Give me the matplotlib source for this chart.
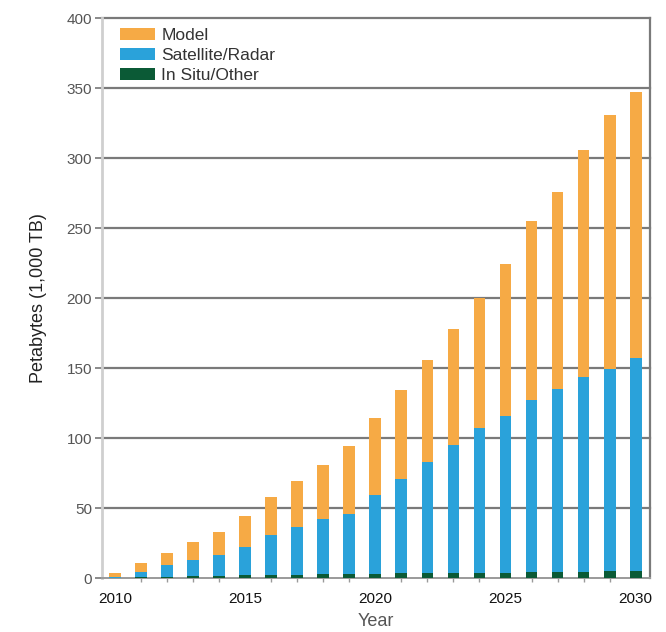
import matplotlib.pyplot as plt
import numpy as np

years = list(range(2010, 2031))
# cumulative tops
total = [3.5, 11, 18, 26, 33, 44, 58, 69, 81, 94, 114,
         134, 156, 178, 200, 224, 255, 276, 306, 331, 347]
blue_top = [1, 4.5, 9.3, 13, 16.5, 22, 31, 36.6, 42, 46, 59,
            71, 83, 95, 107, 116, 127, 135, 143.6, 149, 157]
in_situ = [0.3, 0.6, 1.0, 1.3, 1.6, 1.9, 2.2, 2.4, 2.7, 2.9, 3.1,
           3.3, 3.4, 3.6, 3.8, 3.9, 4.1, 4.3, 4.5, 4.7, 4.9]
y_ticks = [0, 50, 100, 150, 200, 250, 300, 350, 400]
x_ticks = [2010, 2015, 2020, 2025, 2030]

years = np.array(years)
in_situ = np.array(in_situ)
satellite = np.array(blue_top) - in_situ
model = np.array(total) - np.array(blue_top)

plt.rcParams["font.family"] = ["Liberation Sans", "DejaVu Sans"]

fig = plt.figure(figsize=(6.66, 6.32), dpi=100)
ax = fig.add_axes([0.153, 0.0854, 0.823, 0.886])

w = 0.45
ax.bar(years, in_situ, w, color="#0b5a36", label="In Situ/Other", zorder=3)
ax.bar(years, satellite, w, bottom=in_situ, color="#2aa2da",
       label="Satellite/Radar", zorder=3)
ax.bar(years, model, w, bottom=in_situ + satellite, color="#f6aa45",
       label="Model", zorder=3)

ax.set_xlim(2009.5, 2030.55)
ax.set_ylim(0, 400)
ax.set_yticks(y_ticks)
ax.set_xticks(x_ticks)
ax.set_xticks(years, minor=True)

for v in y_ticks[1:]:
    ax.axhline(v, color="#7a7a7a", lw=1.6, zorder=1, clip_on=False)

ax.spines["top"].set_visible(False)
ax.spines["left"].set_color("#cfcfcf")
ax.spines["left"].set_linewidth(2)
ax.spines["right"].set_color("#7a7a7a")
ax.spines["right"].set_linewidth(1.6)
ax.spines["bottom"].set_color("#9a9a9a")
ax.spines["bottom"].set_linewidth(1.4)

ax.tick_params(axis="y", length=5, width=1.4, color="#8a8a8a",
               labelsize=11, labelcolor="#555555", pad=2)
ax.tick_params(axis="x", which="major", length=0, labelsize=11,
               labelcolor="#111111", pad=10)
ax.tick_params(axis="x", which="minor", length=3, width=1, color="#9a9a9a")

ax.set_ylabel("Petabytes (1,000 TB)", fontsize=13, color="#222222", labelpad=14)
ax.set_xlabel("Year", fontsize=13, color="#555555")
ax.xaxis.set_label_coords(0.5, -0.062)

handles, labels = ax.get_legend_handles_labels()
leg = ax.legend(handles[::-1], labels[::-1], loc="upper left", frameon=False,
                fontsize=12.5, handlelength=2.0, handleheight=0.7,
                labelspacing=0.28, handletextpad=0.4, borderaxespad=0.0,
                bbox_to_anchor=(0.02, 0.995))
for t in leg.get_texts():
    t.set_color("#333333")

plt.savefig("out.png", dpi=100)
